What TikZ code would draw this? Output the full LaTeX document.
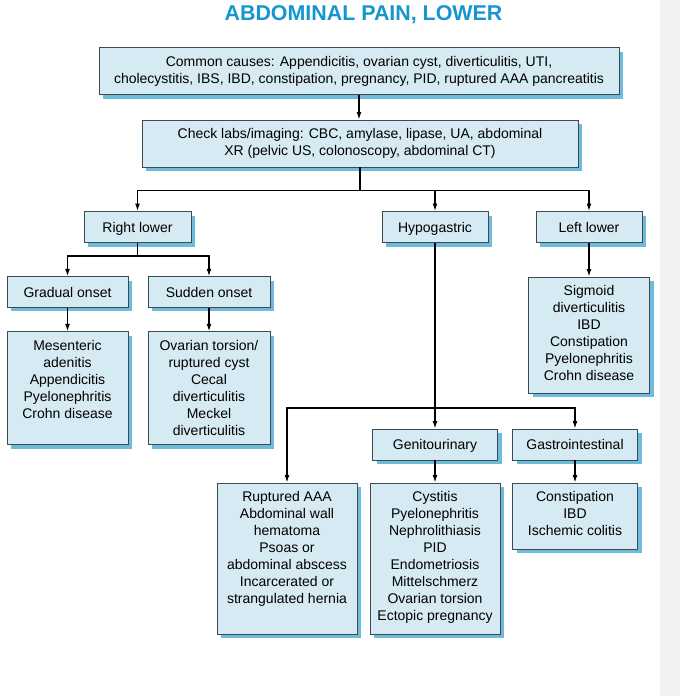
\documentclass[tikz,border=0pt]{standalone}
\usepackage{fontspec}
\setmainfont{Liberation Sans}
\usetikzlibrary{arrows.meta, shadows}
\definecolor{titleblue}{RGB}{22, 150, 207}
\definecolor{boxfill}{RGB}{214, 234, 243}
\definecolor{boxline}{RGB}{62, 74, 82}
\definecolor{boxshadow}{RGB}{110, 188, 219}
\definecolor{stripgray}{RGB}{242, 242, 242}
% top aligned list of causes inside a box of fixed size
\newcommand{\causelist}[3]{\parbox[c][#2][t]{#1}{\centering\vspace*{7pt}\strut #3}}
\tikzset{
    every node/.style={font=\fontsize{14}{17}\selectfont},
    box/.style={draw=boxline, fill=boxfill, line width=.9pt, inner sep=0pt,
        drop shadow={shadow xshift=4pt, shadow yshift=-4pt, fill=boxshadow,
            opacity=1}},
    tag/.style={box, align=center},
    region/.style={box, text height=11pt, text depth=1pt},
    flow/.style={line width=1.4pt, -{Latex[length=7.5pt, width=5pt]}},
}

\begin{document}
\begin{tikzpicture}[x=1pt, y=-1pt]
    \fill[white] (0, 0) rectangle (680, 696);
    \fill[stripgray] (660, 0) rectangle (680, 696);
    \useasboundingbox (0, 0) rectangle (680, 696);
    \node[font=\fontsize{21.4}{24}\selectfont\bfseries, text=titleblue]
        (title) at (363.5, 15) {ABDOMINAL PAIN, LOWER};
    % first two rows
    \node[tag, minimum width=520pt, minimum height=47pt] (causes) at (359, 71)
        {Common causes: Appendicitis, ovarian cyst, diverticulitis, UTI,\\
        cholecystitis, IBS, IBD, constipation, pregnancy, PID, ruptured AAA pancreatitis};
    \node[tag, minimum width=436pt, minimum height=47pt] (labs) at (360, 143.5)
        {Check labs/imaging: CBC, amylase, lipase, UA, abdominal\\
        XR (pelvic US, colonoscopy, abdominal CT)};
    % regions
    \node[region, minimum width=107pt, minimum height=31pt] (right) at (137.5, 227) {Right lower};
    \node[region, minimum width=106pt, minimum height=31pt] (hypo) at (435, 227) {Hypogastric};
    \node[region, minimum width=106pt, minimum height=31pt] (left) at (589, 227) {Left lower};
    \node[region, minimum width=121pt, minimum height=30.5pt] (gradual) at (67.5, 292) {Gradual onset};
    \node[region, minimum width=122pt, minimum height=30.5pt] (sudden) at (209, 292) {Sudden onset};
    \node[region, minimum width=125pt, minimum height=31pt] (genito) at (435, 444.5) {Genitourinary};
    \node[region, minimum width=125pt, minimum height=31pt] (gastro) at (575, 444.5) {Gastrointestinal};
    % lists of causes
    \node[box] (mesen) at (67.5, 388.3) {\causelist{121pt}{113pt}{Mesenteric\\
        adenitis\\Appendicitis\\Pyelonephritis\\Crohn disease}};
    \node[box] (ovarian) at (209, 388.3) {\causelist{122pt}{113pt}{Ovarian torsion/\\
        ruptured cyst\\Cecal\\diverticulitis\\Meckel\\diverticulitis}};
    \node[box] (sigmoid) at (589, 335) {\causelist{121pt}{116pt}{Sigmoid\\
        diverticulitis\\IBD\\Constipation\\Pyelonephritis\\Crohn disease}};
    \node[box] (aaa) at (287, 558.5) {\causelist{140pt}{151pt}{Ruptured AAA\\
        Abdominal wall\\hematoma\\Psoas or\\abdominal abscess\\Incarcerated or\\
        strangulated hernia}};
    \node[box] (cyst) at (435, 558.5) {\causelist{130pt}{151pt}{Cystitis\\
        Pyelonephritis\\Nephrolithiasis\\PID\\Endometriosis\\Mittelschmerz\\
        Ovarian torsion\\Ectopic pregnancy}};
    \node[box] (const) at (575, 516) {\causelist{125pt}{66pt}{Constipation\\
        IBD\\Ischemic colitis}};
    % connectors
    \draw[flow] (causes.south) -- (causes.south |- labs.north);
    \path (labs.south) ++(0, 23) coordinate (busA);
    \draw[flow] (labs.south) -- (busA) -| (right.north);
    \draw[flow] (busA) -| (hypo.north);
    \draw[flow] (busA) -| (left.north);
    \path (right.south) ++(0, 13) coordinate (busB);
    \draw[flow] (right.south) -- (busB) -| (gradual.north);
    \draw[flow] (busB) -| (sudden.north);
    \draw[flow] (gradual.south) -- (mesen.north);
    \draw[flow] (sudden.south) -- (ovarian.north);
    \draw[flow] (left.south) -- (sigmoid.north);
    \coordinate (busC) at (435, 408);
    \draw[flow] (hypo.south) -- (busC) -- (genito.north);
    \draw[flow] (busC) -| (aaa.north);
    \draw[flow] (busC) -| (gastro.north);
    \draw[flow] (genito.south) -- (cyst.north);
    \draw[flow] (gastro.south) -- (const.north);
\end{tikzpicture}
\end{document}
